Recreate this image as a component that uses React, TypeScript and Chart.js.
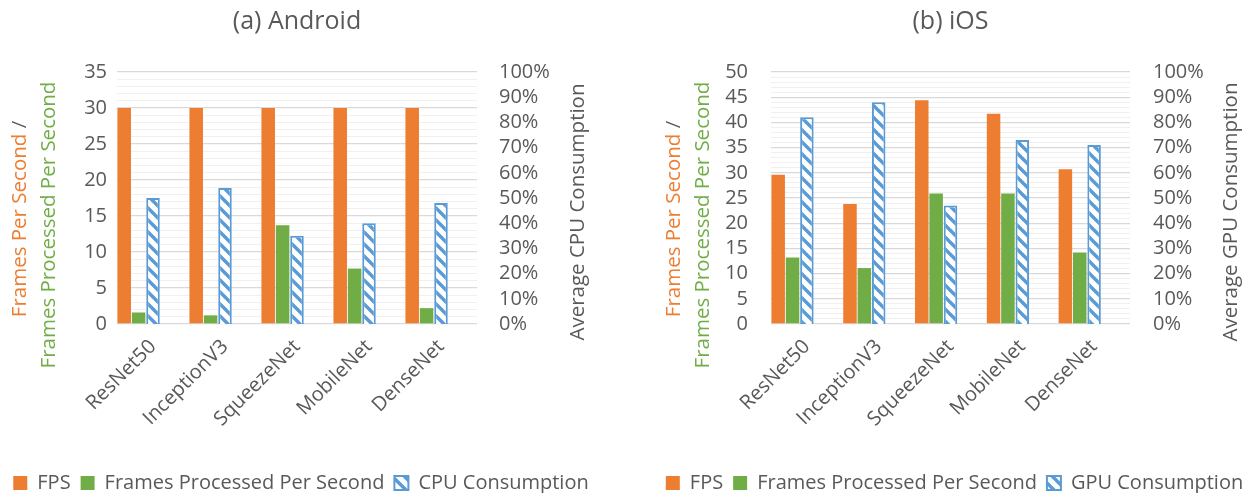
import React, { useEffect, useRef } from "react";
import { Chart, registerables } from "chart.js";

Chart.register(...registerables);
const FONT = "'Open Sans', Lato, sans-serif";
Chart.defaults.font.family = FONT;

const categories = ["ResNet50", "InceptionV3", "SqueezeNet", "MobileNet", "DenseNet"];

const androidFps = [30, 30, 30, 30, 30];
const androidProcessed = [1.6, 1.2, 13.7, 7.7, 2.2];
const androidCpu = [50, 54, 35, 40, 48];

const iosFps = [29.6, 23.8, 44.4, 41.7, 30.7];
const iosProcessed = [13.2, 11.1, 25.9, 25.9, 14.2];
const iosGpu = [82, 88, 47, 73, 71];

const androidLeftMax = 35;
const iosLeftMax = 50;
const percentMax = 100;

const ORANGE = "#ED7D31";
const GREEN = "#70AD47";
const BLUE = "#5B9BD5";
const TEXT = "#595959";

function makeHatch(): CanvasPattern | string {
  const s = 12;
  const c = document.createElement("canvas");
  c.width = s;
  c.height = s;
  const g = c.getContext("2d");
  if (!g) return BLUE;
  g.fillStyle = "#ffffff";
  g.fillRect(0, 0, s, s);
  g.strokeStyle = BLUE;
  g.lineWidth = 3.4;
  for (const off of [-s, 0, s]) {
    g.beginPath();
    g.moveTo(-2, off - 2);
    g.lineTo(s + 2, off + s + 2);
    g.stroke();
  }
  return g.createPattern(c, "repeat") || BLUE;
}

interface Spec {
  title: string;
  fps: number[];
  processed: number[];
  usage: number[];
  usageLabel: string;
  rightTitle: string;
  leftMax: number;
  canvasWidth: number;
  padLeft: number;
  padRight: number;
  yWidth: number;
  yPad: number;
  y1Width: number;
  y1Pad: number;
}

function buildConfig(spec: Spec): any {
  const empty = categories.map(() => null);
  const axisTitles = {
    id: "axisTitles",
    afterDraw(chart: any) {
      const { ctx, chartArea } = chart;
      ctx.save();
      ctx.font = `20.5px ${FONT}`;
      ctx.textBaseline = "middle";
      const a = "Frames Per Second ";
      const b = "/";
      const wa = ctx.measureText(a).width;
      const wb = ctx.measureText(b).width;
      ctx.save();
      ctx.translate(chartArea.left - 97, 219);
      ctx.rotate(-Math.PI / 2);
      ctx.textAlign = "left";
      const start = -(wa + wb) / 2;
      ctx.fillStyle = ORANGE;
      ctx.fillText(a, start, 0);
      ctx.fillStyle = TEXT;
      ctx.fillText(b, start + wa, 0);
      ctx.restore();
      ctx.save();
      ctx.translate(chartArea.left - 68, 225);
      ctx.rotate(-Math.PI / 2);
      ctx.textAlign = "center";
      ctx.fillStyle = GREEN;
      ctx.fillText("Frames Processed Per Second", 0, 0);
      ctx.restore();
      ctx.save();
      ctx.translate(chartArea.right + 101, 212);
      ctx.rotate(-Math.PI / 2);
      ctx.textAlign = "center";
      ctx.fillStyle = TEXT;
      ctx.fillText(spec.rightTitle, 0, 0);
      ctx.restore();
      ctx.restore();
    },
  };

  return {
    type: "bar",
    data: {
      labels: categories,
      datasets: [
        { label: "FPS", data: spec.fps, backgroundColor: ORANGE, borderWidth: 0, yAxisID: "y" },
        {
          label: "Frames Processed Per Second",
          data: spec.processed,
          backgroundColor: GREEN,
          borderWidth: 0,
          yAxisID: "y",
        },
        {
          label: spec.usageLabel,
          data: spec.usage,
          backgroundColor: makeHatch(),
          borderColor: BLUE,
          borderWidth: 2,
          yAxisID: "y1",
        },
        { label: "", data: empty, yAxisID: "y" },
        { label: "", data: empty, yAxisID: "y" },
      ],
    },
    options: {
      responsive: false,
      animation: false,
      devicePixelRatio: 1,
      layout: { padding: { left: spec.padLeft, right: spec.padRight, top: 0, bottom: 0 } },
      datasets: { bar: { categoryPercentage: 1.0, barPercentage: 0.94 } },
      plugins: {
        title: {
          display: true,
          text: spec.title,
          color: TEXT,
          font: { size: 25, weight: "normal" },
          padding: { top: 7, bottom: 35 },
          fullSize: false,
        },
        legend: {
          position: "bottom",
          labels: {
            boxWidth: 14,
            boxHeight: 14,
            padding: 10,
            color: TEXT,
            font: { size: 20 },
            filter: (item: any) => item.datasetIndex < 3,
          },
        },
        tooltip: { enabled: false },
      },
      scales: {
        x: {
          grid: { display: false, drawTicks: false },
          border: { display: false },
          ticks: {
            color: TEXT,
            font: { size: 20 },
            minRotation: 45,
            maxRotation: 45,
            autoSkip: false,
            padding: 11,
          },
          afterFit: (scale: any) => {
            scale.height = 139;
          },
        },
        y: {
          position: "left",
          min: 0,
          max: spec.leftMax,
          border: { display: false },
          grid: {
            drawTicks: false,
            color: (c: any) => (c.tick && c.tick.value % 5 === 0 ? "#d9d9d9" : "#f0f0f0"),
            lineWidth: (c: any) => (c.tick && c.tick.value % 5 === 0 ? 1.3 : 1),
          },
          ticks: {
            stepSize: 1,
            autoSkip: false,
            color: TEXT,
            font: { size: 20 },
            padding: spec.yPad,
            callback: (v: any) => (Number(v) % 5 === 0 ? String(v) : ""),
          },
          afterFit: (scale: any) => {
            scale.width = spec.yWidth;
          },
        },
        y1: {
          position: "right",
          min: 0,
          max: percentMax,
          border: { display: false },
          grid: { display: false, drawTicks: false, drawOnChartArea: false },
          ticks: {
            stepSize: 10,
            autoSkip: false,
            color: TEXT,
            font: { size: 20 },
            padding: spec.y1Pad,
            callback: (v: any) => `${v}%`,
          },
          afterFit: (scale: any) => {
            scale.width = spec.y1Width;
          },
        },
      },
    },
    plugins: [axisTitles],
  };
}

const androidSpec: Spec = {
  title: "(a) Android",
  fps: androidFps,
  processed: androidProcessed,
  usage: androidCpu,
  usageLabel: "CPU Consumption",
  rightTitle: "Average CPU Consumption",
  leftMax: androidLeftMax,
  canvasWidth: 624,
  padLeft: 0,
  padRight: 22,
  yWidth: 117,
  yPad: 10,
  y1Width: 125,
  y1Pad: 22,
};

const iosSpec: Spec = {
  title: "(b) iOS",
  fps: iosFps,
  processed: iosProcessed,
  usage: iosGpu,
  usageLabel: "GPU Consumption",
  rightTitle: "Average GPU Consumption",
  leftMax: iosLeftMax,
  canvasWidth: 640,
  padLeft: 21,
  padRight: 0,
  yWidth: 126,
  yPad: 23,
  y1Width: 134,
  y1Pad: 23,
};

function ChartCanvas({ spec, left }: { spec: Spec; left: number }) {
  const ref = useRef<HTMLCanvasElement | null>(null);
  useEffect(() => {
    if (!ref.current) return;
    const chart = new Chart(ref.current, buildConfig(spec));
    return () => chart.destroy();
  }, [spec]);
  const w = spec.canvasWidth;
  return (
    <div style={{ position: "absolute", left, top: 0, width: w, height: 503 }}>
      <canvas ref={ref} width={w} height={503} style={{ width: w, height: 503, display: "block" }} />
    </div>
  );
}

export default function App() {
  return (
    <div
      style={{
        position: "fixed",
        left: 0,
        top: 0,
        width: 1248,
        height: 493,
        overflow: "hidden",
        background: "#ffffff",
      }}
    >
      <ChartCanvas spec={androidSpec} left={0} />
      <ChartCanvas spec={iosSpec} left={624} />
    </div>
  );
}
